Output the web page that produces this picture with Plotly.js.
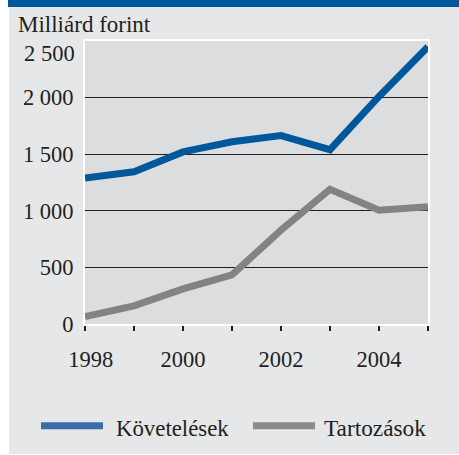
<!DOCTYPE html>
<html>
<head>
<meta charset="utf-8">
<script src="https://cdn.plot.ly/plotly-3.0.1.min.js"></script>
<style>
  html, body { margin: 0; padding: 0; width: 459px; height: 455px; overflow: hidden; background: #ffffff; }
  #bg { position: absolute; left: 9px; top: 7px; width: 450px; height: 447px; background: #e6e7e8; }
  #band { position: absolute; left: 8px; top: 0px; width: 451px; height: 7px; background: #00579c; }
  #chart { position: absolute; left: 0; top: 0; width: 459px; height: 455px; }
</style>
</head>
<body>
<div id="bg"></div>
<div id="band"></div>
<div id="chart"></div>
<script>
// ---- data ----
const years = [1998, 1999, 2000, 2001, 2002, 2003, 2004, 2005];
const kovetelesek = [1290, 1345, 1520, 1610, 1665, 1540, 2010, 2450];
const tartozasok = [65, 160, 310, 435, 830, 1190, 1005, 1035];
const seriesNames = ['Követelések', 'Tartozások'];
const xTickVals = [1998, 1999, 2000, 2001, 2002, 2003, 2004, 2005];
const xTickText = ['\u00a0\u00a01998', '', '2000', '', '2002', '', '2004', ''];
const yTickVals = [0, 500, 1000, 1500, 2000, 2500];
const yTickText = ['0', '500', '1 000', '1 500', '2 000', '2 500'];
const unitLabel = 'Milliárd forint';

// ---- layout geometry ----
const W = 459, H = 455;
const M = {l: 85, r: 31, t: 41, b: 131};
const pw = W - M.l - M.r, ph = H - M.t - M.b;
const px = x => (x - M.l) / pw;
const py = y => (H - M.b - y) / ph;

const FONT = '"Liberation Serif"';
const TXT = '#231f20';
const BLUE = '#00589c', GRAY = '#828385';

const traces = [
  {x: years, y: kovetelesek, name: seriesNames[0], type: 'scatter', mode: 'lines',
   line: {color: BLUE, width: 7}, hoverinfo: 'skip'},
  {x: years, y: tartozasok, name: seriesNames[1], type: 'scatter', mode: 'lines',
   line: {color: GRAY, width: 7}, hoverinfo: 'skip'}
];

// y tick labels: the top one sits lower than its value in the reference
const yLabelsShown = yTickText.map((t, i) => i === yTickText.length - 1 ? '' : t);

const legendY = py(425.7);
const shapes = [
  {type: 'line', xref: 'paper', yref: 'paper', x0: px(41), x1: px(103), y0: legendY, y1: legendY,
   line: {color: '#3a6ea8', width: 7}},
  {type: 'line', xref: 'paper', yref: 'paper', x0: px(253), x1: px(315), y0: legendY, y1: legendY,
   line: {color: '#8b8b8d', width: 7}}
];
const annotations = [
  {text: seriesNames[0], xref: 'paper', yref: 'paper', x: px(114), y: py(428), xanchor: 'left', yanchor: 'middle',
   showarrow: false, font: {family: FONT, size: 22.8, color: TXT}},
  {text: seriesNames[1], xref: 'paper', yref: 'paper', x: px(322), y: py(428), xanchor: 'left', yanchor: 'middle',
   showarrow: false, font: {family: FONT, size: 23.3, color: TXT}},
  {text: yTickText[yTickText.length - 1], xref: 'paper', yref: 'y', x: 0, y: yTickVals[yTickVals.length - 1],
   xanchor: 'right', yanchor: 'middle', xshift: -8, yshift: -12, showarrow: false,
   font: {family: FONT, size: 22.5, color: TXT}}
];

const layout = {
  width: W, height: H,
  margin: M,
  font: {family: FONT, color: TXT},
  paper_bgcolor: 'rgba(0,0,0,0)',
  plot_bgcolor: '#dcdddf',
  showlegend: false,
  title: {text: unitLabel, xref: 'container', yref: 'container', x: 18 / W, xanchor: 'left',
          y: 1 - 24 / H, yanchor: 'middle', font: {family: FONT, size: 23, color: TXT}},
  xaxis: {
    range: [1998, 2005], tickvals: xTickVals, ticktext: xTickText,
    showgrid: false, zeroline: false,
    showline: true, mirror: true, linecolor: '#ffffff', linewidth: 2,
    ticks: 'outside', ticklen: 5, tickwidth: 1.5, tickcolor: '#231f20',
    ticklabelstandoff: 9,
    tickfont: {family: FONT, size: 22.5, color: TXT}
  },
  yaxis: {
    range: [0, 2500], tickvals: yTickVals, ticktext: yLabelsShown,
    showgrid: true, gridcolor: '#231f20', gridwidth: 1.2, zeroline: false,
    showline: true, mirror: true, linecolor: '#ffffff', linewidth: 2,
    ticks: '', ticklabelstandoff: 5,
    tickfont: {family: FONT, size: 22.5, color: TXT}
  },
  shapes: shapes,
  annotations: annotations
};

Plotly.newPlot('chart', traces, layout, {displayModeBar: false, staticPlot: true});
</script>
</body>
</html>
